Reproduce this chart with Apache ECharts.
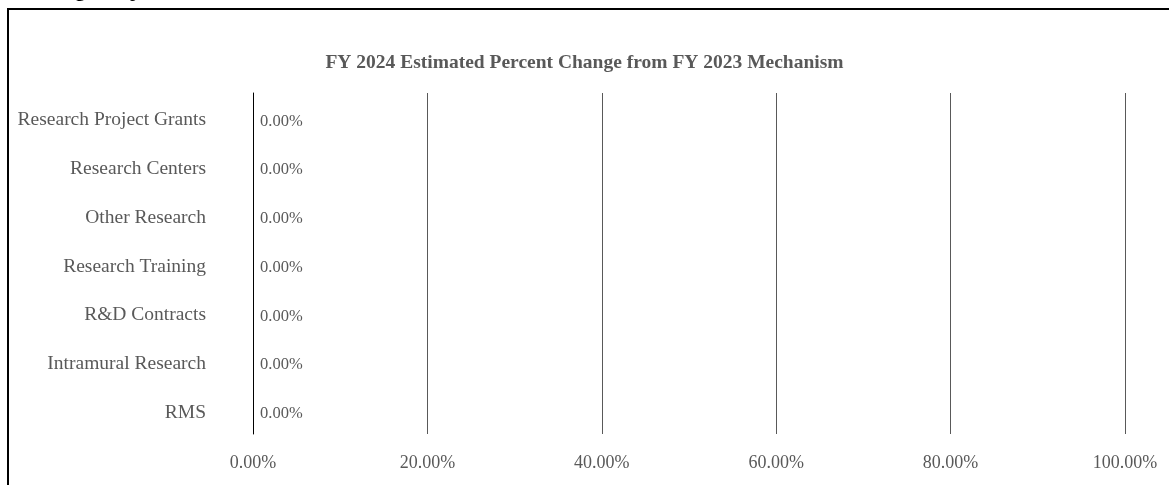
<!DOCTYPE html>
<html>
<head>
<meta charset="utf-8">
<script src="https://cdn.jsdelivr.net/npm/echarts@6/dist/echarts.min.js"></script>
<style>
html,body{margin:0;padding:0;background:#fff;}
#chart{width:1169px;height:485px;}
</style>
</head>
<body>
<div id="chart"></div>
<script>
var categories = ['Research Project Grants','Research Centers','Other Research','Research Training','R&D Contracts','Intramural Research','RMS'];
var percentChange = [0, 0, 0, 0, 0, 0, 0];
var xTicks = [0, 20, 40, 60, 80, 100];
var titleText = 'FY 2024 Estimated Percent Change from FY 2023 Mechanism';
var headingText = 'Agency';

var chart = echarts.init(document.getElementById('chart'));
chart.setOption({
  backgroundColor: '#ffffff',
  animation: false,
  title: {
    text: titleText,
    left: 'center',
    top: 48,
    textStyle: {fontFamily: 'Liberation Serif', fontWeight: 'bold', fontSize: 19.5, color: '#595959'}
  },
  graphic: [
    {type: 'rect', shape: {x: 8, y: 9, width: 1200, height: 500}, style: {fill: 'none', stroke: '#000', lineWidth: 2}},
    {type: 'text', x: 56, y: 1, style: {text: headingText, font: 'bold 24px "Liberation Sans"', fill: '#000', textVerticalAlign: 'bottom'}}
  ],
  grid: {left: 253, right: 44, top: 93, bottom: 51, containLabel: false},
  xAxis: {
    type: 'value', min: xTicks[0], max: xTicks[xTicks.length - 1], interval: 20,
    axisLine: {show: false}, axisTick: {show: false},
    splitLine: {show: true, lineStyle: {color: '#595959', width: 1}},
    axisLabel: {margin: 20, color: '#595959', fontFamily: 'Liberation Serif', fontSize: 18,
      formatter: function (v) { return v.toFixed(2) + '%'; }}
  },
  yAxis: {
    type: 'category', data: categories, inverse: true,
    axisLine: {show: true, lineStyle: {color: '#000', width: 1}},
    axisTick: {show: false},
    axisLabel: {margin: 47, color: '#595959', fontFamily: 'Liberation Serif', fontSize: 19.5, verticalAlign: 'top', lineHeight: 6}
  },
  series: [{
    type: 'bar', data: percentChange, barWidth: '60%',
    itemStyle: {color: '#4472C4'},
    label: {show: true, position: 'right', distance: 7, color: '#595959', fontFamily: 'Liberation Serif', fontSize: 16.5, verticalAlign: 'top', lineHeight: 8,
      formatter: function (p) { return p.value.toFixed(2) + '%'; }}
  }]
});
</script>
</body>
</html>
